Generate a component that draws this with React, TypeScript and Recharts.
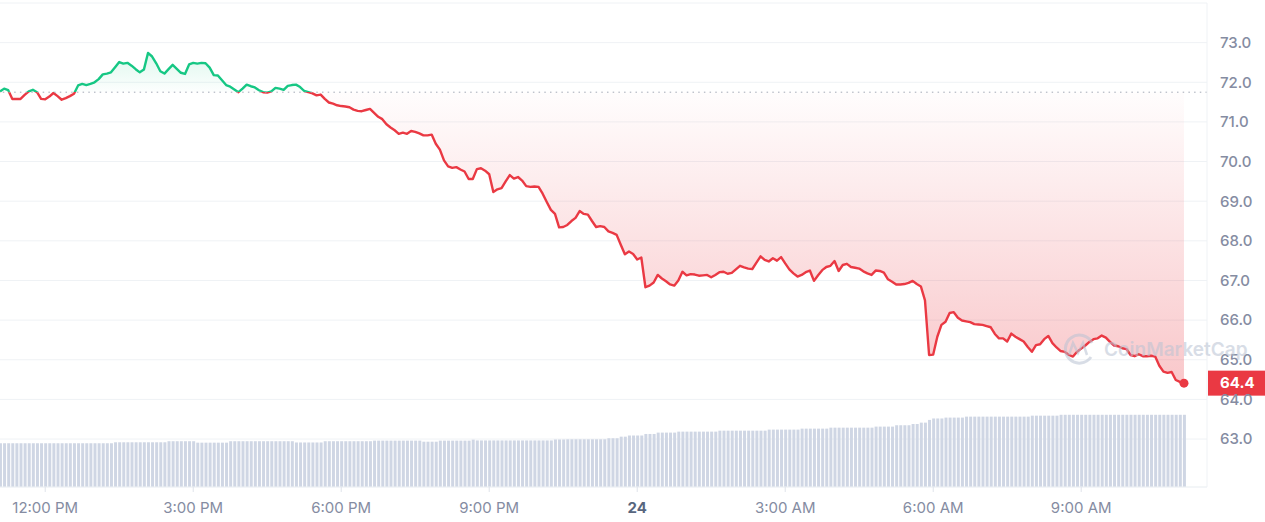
import React from "react";
import {
  ComposedChart,
  Area,
  Bar,
  XAxis,
  YAxis,
  CartesianGrid,
  ReferenceLine,
  ReferenceDot,
} from "recharts";

// 24h window, 5 minute candles, minutes counted from 12:00 PM
const START_MINUTE = -55;
const STEP_MINUTES = 5;
const OPEN_PRICE = 71.75;

const prices = [
  71.77, 71.84, 71.8, 71.58, 71.58, 71.58, 71.68, 71.77, 71.81, 71.75, 71.58, 71.57,
  71.64, 71.73, 71.65, 71.56, 71.6, 71.65, 71.71, 71.92, 71.96, 71.93, 71.96, 72.0,
  72.08, 72.2, 72.22, 72.25, 72.38, 72.51, 72.47, 72.49, 72.42, 72.33, 72.25, 72.32,
  72.74, 72.65, 72.48, 72.28, 72.22, 72.33, 72.44, 72.34, 72.24, 72.21, 72.45, 72.49,
  72.47, 72.49, 72.48, 72.37, 72.18, 72.17, 72.05, 71.93, 71.89, 71.82, 71.75, 71.84,
  71.94, 71.9, 71.87, 71.8, 71.75, 71.74, 71.77, 71.86, 71.84, 71.81, 71.91, 71.93,
  71.94, 71.88, 71.78, 71.75, 71.72, 71.67, 71.69, 71.58, 71.49, 71.46, 71.42, 71.4,
  71.39, 71.37, 71.31, 71.28, 71.27, 71.3, 71.33, 71.23, 71.13, 71.07, 70.94, 70.86,
  70.79, 70.7, 70.73, 70.7, 70.77, 70.75, 70.71, 70.66, 70.66, 70.68, 70.45, 70.3,
  70.03, 69.88, 69.84, 69.86, 69.8, 69.75, 69.56, 69.56, 69.81, 69.83, 69.77, 69.68,
  69.23, 69.3, 69.33, 69.5, 69.66, 69.57, 69.61, 69.52, 69.38, 69.36, 69.37, 69.36,
  69.19, 68.98, 68.78, 68.68, 68.34, 68.35, 68.4, 68.5, 68.58, 68.75, 68.68, 68.66,
  68.5, 68.35, 68.37, 68.35, 68.24, 68.2, 68.15, 67.9, 67.66, 67.73, 67.67, 67.53,
  67.58, 66.83, 66.87, 66.95, 67.14, 67.05, 66.98, 66.9, 66.87, 67.0, 67.22, 67.13,
  67.16, 67.15, 67.12, 67.13, 67.14, 67.08, 67.14, 67.21, 67.22, 67.17, 67.19, 67.28,
  67.37, 67.33, 67.3, 67.29, 67.45, 67.61, 67.52, 67.48, 67.56, 67.5, 67.59, 67.43,
  67.28, 67.18, 67.1, 67.14, 67.21, 67.25, 66.99, 67.13, 67.26, 67.34, 67.37, 67.49,
  67.24, 67.39, 67.42, 67.34, 67.32, 67.3, 67.23, 67.18, 67.14, 67.25, 67.24, 67.2,
  67.03, 66.97, 66.9, 66.9, 66.91, 66.94, 66.99, 66.91, 66.85, 66.5, 65.12, 65.13,
  65.58, 65.88, 65.96, 66.18, 66.2, 66.06, 65.99, 65.97, 65.95, 65.9, 65.89, 65.88,
  65.85, 65.82, 65.65, 65.54, 65.54, 65.46, 65.66, 65.58, 65.52, 65.46, 65.32, 65.2,
  65.37, 65.39, 65.52, 65.6, 65.42, 65.31, 65.22, 65.2, 65.12, 65.08, 65.2, 65.28,
  65.36, 65.45, 65.52, 65.54, 65.61, 65.56, 65.45, 65.36, 65.34, 65.29, 65.27, 65.12,
  65.09, 65.14, 65.09, 65.09, 65.1, 65.08, 64.85, 64.7, 64.67, 64.69, 64.49, 64.44,
  64.41,
];

// 24h volume, millions
const volumes = [
  45.2, 45.2, 45.2, 45.2, 45.2, 45.2, 45.2, 45.2, 45.2, 45.2, 45.2, 45.2,
  45.2, 45.2, 45.2, 45.2, 45.2, 45.2, 45.2, 45.2, 45.2, 45.2, 45.2, 45.2,
  45.2, 45.2, 45.2, 45.2, 46.2, 46.2, 46.2, 46.2, 46.2, 46.2, 46.2, 46.2,
  46.2, 46.2, 46.2, 46.2, 46.2, 47.3, 47.3, 47.3, 47.3, 47.3, 47.3, 47.3,
  45.8, 45.8, 45.8, 45.8, 45.8, 45.8, 45.8, 45.8, 47.3, 47.3, 47.3, 47.3,
  47.3, 47.3, 47.3, 47.3, 47.3, 47.3, 47.3, 47.3, 47.3, 47.3, 47.3, 47.3,
  46.0, 46.0, 46.0, 46.0, 46.0, 46.0, 46.0, 47.3, 47.3, 47.3, 47.3, 47.3,
  47.3, 47.3, 47.3, 47.3, 47.3, 47.3, 47.3, 47.9, 47.9, 47.9, 47.9, 47.9,
  47.9, 47.9, 47.9, 47.9, 47.9, 47.9, 47.9, 46.8, 46.8, 46.8, 46.8, 47.9,
  47.9, 47.9, 47.9, 47.9, 47.9, 47.9, 47.9, 48.9, 48.1, 48.1, 48.1, 48.1,
  48.1, 48.1, 48.1, 48.1, 48.1, 48.1, 48.1, 48.1, 48.1, 48.1, 48.1, 48.1,
  48.1, 48.1, 48.1, 49.1, 49.1, 49.1, 49.3, 49.3, 49.3, 49.3, 49.3, 49.3,
  49.3, 49.3, 49.3, 49.3, 50.4, 50.4, 50.4, 52.0, 52.0, 53.2, 53.2, 53.2,
  53.2, 54.8, 54.8, 54.8, 56.2, 56.2, 56.2, 56.2, 56.2, 57.2, 57.2, 57.2,
  57.2, 57.2, 57.2, 57.2, 57.2, 57.2, 57.2, 58.2, 58.2, 58.2, 58.2, 58.2,
  58.2, 58.2, 58.2, 58.2, 58.2, 58.2, 58.2, 59.3, 59.3, 59.3, 59.3, 59.3,
  59.3, 59.3, 59.3, 60.3, 60.3, 60.3, 60.3, 60.3, 60.3, 60.3, 61.3, 61.3,
  61.3, 61.3, 61.3, 61.3, 61.3, 61.3, 61.3, 61.3, 61.3, 62.4, 62.4, 62.4,
  62.4, 62.4, 63.8, 63.8, 63.8, 63.8, 65.1, 65.1, 66.5, 66.5, 69.3, 70.8,
  70.8, 70.8, 71.7, 71.7, 71.7, 71.7, 71.7, 72.7, 72.7, 72.7, 72.7, 72.7,
  72.7, 72.7, 72.7, 72.7, 72.7, 72.7, 72.7, 72.7, 72.7, 72.7, 72.7, 73.7,
  73.7, 73.7, 73.7, 73.7, 73.7, 73.7, 74.6, 74.6, 74.6, 74.6, 74.6, 74.6,
  74.6, 74.6, 74.6, 74.6, 74.6, 74.6, 74.6, 74.6, 74.6, 74.6, 74.6, 74.6,
  74.6, 74.6, 74.6, 74.6, 74.6, 74.6, 74.6, 74.6, 74.6, 74.6, 74.6, 74.6,
  74.6,
];

const priceTicks = [63, 64, 65, 66, 67, 68, 69, 70, 71, 72, 73];
const timeTicks = [0, 180, 360, 540, 720, 900, 1080, 1260];
const timeLabels = ["12:00 PM", "3:00 PM", "6:00 PM", "9:00 PM", "24", "3:00 AM", "6:00 AM", "9:00 AM"];

const GREEN = "#16c784";
const RED = "#ea3943";
const LABEL = "#858ca2";
const GRID = "#eff2f5";

const data = prices.map((price, i) => ({
  t: START_MINUTE + i * STEP_MINUTES,
  price,
  volume: volumes[i],
}));

const last = data[data.length - 1];
const maxPrice = Math.max(...prices);
const minPrice = Math.min(...prices);
const splitOffset = (maxPrice - OPEN_PRICE) / (maxPrice - minPrice);

function TimeTick(props: any) {
  const { x, y, payload } = props;
  const label = timeLabels[timeTicks.indexOf(payload.value)];
  const isDay = label === "24";
  return (
    <text
      x={x}
      y={y}
      dy="0.71em"
      textAnchor="middle"
      fill={isDay ? "#58667e" : LABEL}
      fontSize={15}
      fontWeight={isDay ? 700 : 400}
      fontFamily="Inter, sans-serif"
    >
      {label}
    </text>
  );
}

function PriceBadge(props: any) {
  const { viewBox, text } = props;
  if (!viewBox) return null;
  const left = viewBox.x + viewBox.width + 1;
  return (
    <g>
      <rect x={left} y={viewBox.y - 12.5} width={57} height={25} fill={RED} />
      <text
        x={left + 12}
        y={viewBox.y}
        dy="0.355em"
        fill="#fff"
        fontSize={15}
        fontWeight={700}
        fontFamily="Inter, sans-serif"
      >
        {text}
      </text>
    </g>
  );
}

export default function App() {
  return (
    <div style={{ position: "absolute", left: 0, top: 0, width: 1265, height: 522, background: "#fff" }}>
      <ComposedChart
        width={1265}
        height={522}
        data={data}
        margin={{ top: 3, right: 0, bottom: 0, left: 0 }}
      >
        <defs>
          <linearGradient id="priceStroke" x1="0" y1="0" x2="0" y2="1">
            <stop offset={0} stopColor={GREEN} />
            <stop offset={splitOffset} stopColor={GREEN} />
            <stop offset={splitOffset} stopColor={RED} />
            <stop offset={1} stopColor={RED} />
          </linearGradient>
          <linearGradient id="priceFill" x1="0" y1="0" x2="0" y2="1">
            <stop offset={0} stopColor={GREEN} stopOpacity={0.14} />
            <stop offset={splitOffset} stopColor={GREEN} stopOpacity={0.01} />
            <stop offset={splitOffset} stopColor={RED} stopOpacity={0.01} />
            <stop offset={1} stopColor={RED} stopOpacity={0.28} />
          </linearGradient>
        </defs>
        <CartesianGrid yAxisId="price" vertical={false} stroke={GRID} />
        <XAxis
          dataKey="t"
          type="number"
          domain={[-55, 1413]}
          ticks={timeTicks}
          tick={<TimeTick />}
          tickSize={5}
          tickMargin={10}
          height={35}
          axisLine={{ stroke: GRID }}
          tickLine={{ stroke: "#dfe3ea" }}
        />
        <YAxis yAxisId="vol" hide domain={[0, 500]} />
        <YAxis
          yAxisId="price"
          orientation="right"
          domain={[61.79, 74]}
          ticks={priceTicks}
          tickFormatter={(v: number) => v.toFixed(1)}
          width={58}
          tickSize={6}
          tickMargin={7}
          axisLine={{ stroke: GRID }}
          tickLine={false}
          tick={{ fill: LABEL, fontSize: 15, fontWeight: 500, fontFamily: "Inter, sans-serif" }}
        />
        <Bar yAxisId="vol" dataKey="volume" fill="#cfd6e4" barSize={3} isAnimationActive={false} />
        <Area
          yAxisId="price"
          type="linear"
          dataKey="price"
          baseValue={OPEN_PRICE}
          stroke="url(#priceStroke)"
          strokeWidth={2.4}
          strokeLinejoin="round"
          fill="url(#priceFill)"
          fillOpacity={1}
          dot={false}
          activeDot={false}
          isAnimationActive={false}
        />
        <ReferenceLine
          yAxisId="price"
          y={OPEN_PRICE}
          stroke="#a3a9b6"
          strokeWidth={1}
          strokeDasharray="1.5 4.2"
        />
        <ReferenceDot yAxisId="price" x={last.t} y={last.price} r={4.5} fill={RED} stroke="none" />
        <ReferenceLine
          yAxisId="price"
          y={last.price}
          stroke="none"
          label={<PriceBadge text={last.price.toFixed(1)} />}
        />
      </ComposedChart>
      <svg
        width={1265}
        height={522}
        style={{ position: "absolute", left: 0, top: 0, pointerEvents: "none" }}
      >
        <g opacity={0.55} fill="none" stroke="#b9c3d3" strokeWidth={3}>
          <path d="M 1091 357 A 14 14 0 1 1 1092 343" />
          <polyline points="1069,355 1073,343 1078,353 1083,343 1087,355" strokeWidth={2.5} />
        </g>
        <text
          x={1104}
          y={356}
          fill="#b9c3d3"
          opacity={0.55}
          fontSize={19}
          fontWeight={600}
          fontFamily="Inter, sans-serif"
        >
          CoinMarketCap
        </text>
      </svg>
    </div>
  );
}
